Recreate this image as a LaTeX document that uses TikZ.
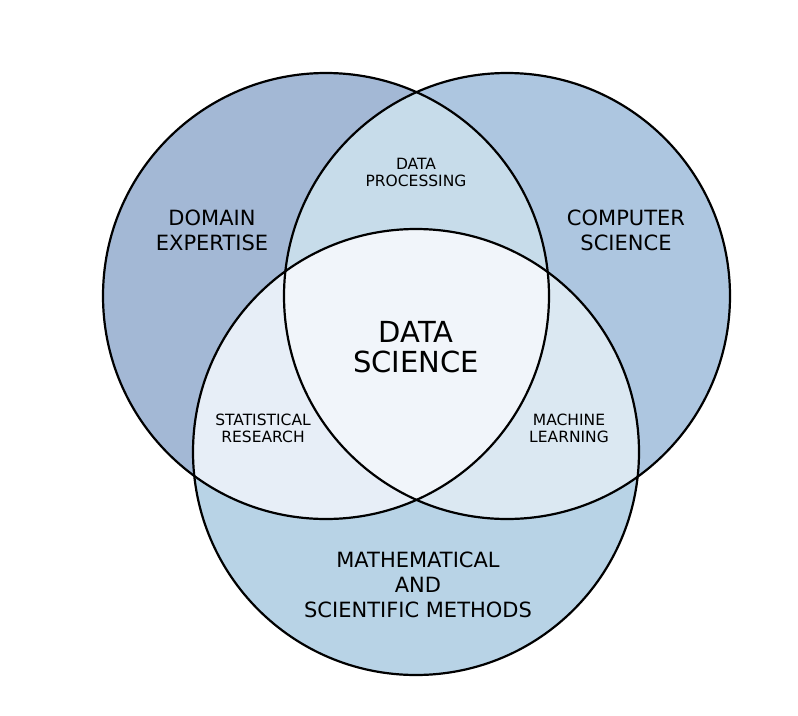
\documentclass[tikz,border=0pt]{standalone}
\usepackage{fontspec}
\setmainfont{DejaVu Sans}
\begin{document}
\begin{tikzpicture}[x=1pt,y=-1pt,
  ring/.style={draw=black,line width=2.2pt},
  biglabel/.style={align=center,inner sep=0pt,font=\fontsize{21}{25}\selectfont},
  smalllabel/.style={align=center,inner sep=0pt,font=\fontsize{15.5}{17}\selectfont},
  corelabel/.style={align=center,inner sep=0pt,font=\fontsize{29}{30}\selectfont}]
\useasboundingbox (0,0) rectangle (798,715);
\def\rad{223}
\coordinate (cl) at (326,296);
\coordinate (cr) at (507,296);
\coordinate (cb) at (416,452);
% single sets
\fill[fill={rgb,255:red,163;green,184;blue,213}] (cl) circle (\rad);
\fill[fill={rgb,255:red,173;green,198;blue,224}] (cr) circle (\rad);
\fill[fill={rgb,255:red,184;green,211;blue,230}] (cb) circle (\rad);
% pairwise overlaps
\begin{scope}
  \clip (cl) circle (\rad);
  \fill[fill={rgb,255:red,199;green,220;blue,234}] (cr) circle (\rad);
\end{scope}
\begin{scope}
  \clip (cl) circle (\rad);
  \fill[fill={rgb,255:red,231;green,238;blue,247}] (cb) circle (\rad);
\end{scope}
\begin{scope}
  \clip (cr) circle (\rad);
  \fill[fill={rgb,255:red,219;green,232;blue,242}] (cb) circle (\rad);
\end{scope}
% triple overlap
\begin{scope}
  \clip (cl) circle (\rad);
  \clip (cr) circle (\rad);
  \fill[fill={rgb,255:red,241;green,245;blue,250}] (cb) circle (\rad);
\end{scope}
% outlines
\draw[ring] (cl) circle (\rad);
\draw[ring] (cr) circle (\rad);
\draw[ring] (cb) circle (\rad);
% labels
\node[biglabel] (dom) at (212,230) {DOMAIN\\EXPERTISE};
\node[biglabel] (cs) at (626,230) {COMPUTER\\SCIENCE};
\node[biglabel] (math) at (418,585) {MATHEMATICAL\\AND\\SCIENTIFIC METHODS};
\node[smalllabel] (dp) at (416,172) {DATA\\PROCESSING};
\node[smalllabel] (sr) at (263,428) {STATISTICAL\\RESEARCH};
\node[smalllabel] (ml) at (569,428) {MACHINE\\LEARNING};
\node[corelabel] (ds) at (416,347) {DATA\\SCIENCE};
\end{tikzpicture}
\end{document}
